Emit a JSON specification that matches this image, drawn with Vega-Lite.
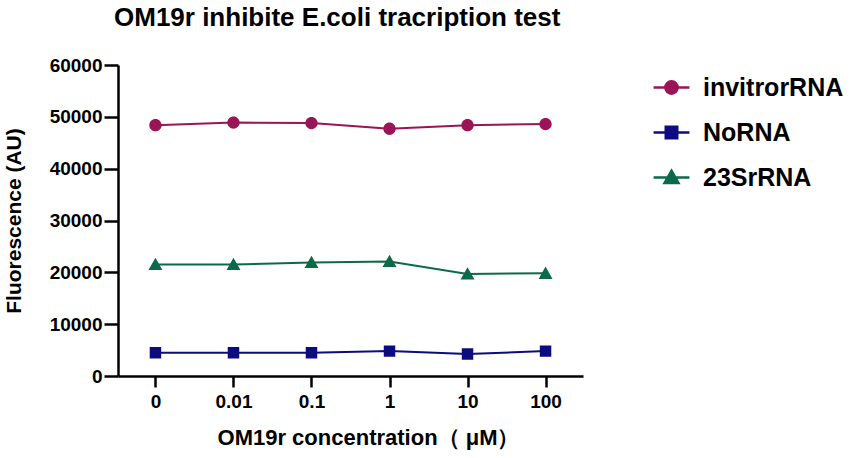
{
  "$schema": "https://vega.github.io/schema/vega-lite/v6.json",
  "width": 465,
  "height": 311,
  "autosize": "none",
  "padding": {"left": 118, "top": 65, "right": 271, "bottom": 82},
  "background": "white",
  "title": {
    "text": "OM19r inhibite E.coli tracription test",
    "frame": "group",
    "anchor": "start",
    "dx": -4,
    "offset": 25,
    "fontSize": 26,
    "fontWeight": "bold",
    "font": "Liberation Sans",
    "color": "black"
  },
  "data": {
    "values": [
      {"conc": "0", "series": "invitrorRNA", "value": 48400},
      {"conc": "0.01", "series": "invitrorRNA", "value": 48900},
      {"conc": "0.1", "series": "invitrorRNA", "value": 48800},
      {"conc": "1", "series": "invitrorRNA", "value": 47700},
      {"conc": "10", "series": "invitrorRNA", "value": 48400},
      {"conc": "100", "series": "invitrorRNA", "value": 48600},
      {"conc": "0", "series": "NoRNA", "value": 4500},
      {"conc": "0.01", "series": "NoRNA", "value": 4500},
      {"conc": "0.1", "series": "NoRNA", "value": 4500},
      {"conc": "1", "series": "NoRNA", "value": 4800},
      {"conc": "10", "series": "NoRNA", "value": 4250},
      {"conc": "100", "series": "NoRNA", "value": 4800},
      {"conc": "0", "series": "23SrRNA", "value": 21500},
      {"conc": "0.01", "series": "23SrRNA", "value": 21500},
      {"conc": "0.1", "series": "23SrRNA", "value": 21900},
      {"conc": "1", "series": "23SrRNA", "value": 22100},
      {"conc": "10", "series": "23SrRNA", "value": 19700},
      {"conc": "100", "series": "23SrRNA", "value": 19800}
    ]
  },
  "encoding": {
    "x": {
      "field": "conc",
      "type": "ordinal",
      "sort": ["0", "0.01", "0.1", "1", "10", "100"],
      "scale": {"type": "point", "padding": 0.48},
      "title": "OM19r concentration（ μM）",
      "axis": {
        "labelAngle": 0,
        "tickSize": 11,
        "tickWidth": 2.5,
        "domainWidth": 2.5,
        "labelPadding": 5,
        "titlePadding": 16,
        "titleFontSize": 22,
        "titleX": 250
      }
    },
    "y": {
      "field": "value",
      "type": "quantitative",
      "scale": {"domain": [0, 60000], "nice": false},
      "title": "Fluorescence (AU)",
      "axis": {
        "values": [0, 10000, 20000, 30000, 40000, 50000, 60000],
        "format": "d",
        "grid": false,
        "tickSize": 14,
        "tickWidth": 2.5,
        "domainWidth": 2.5,
        "labelPadding": 2,
        "titlePadding": 25
      }
    },
    "color": {
      "field": "series",
      "type": "nominal",
      "scale": {
        "domain": ["invitrorRNA", "NoRNA", "23SrRNA"],
        "range": ["#9A1456", "#0C0C80", "#0B6A48"]
      },
      "legend": {"title": null}
    }
  },
  "layer": [
    {
      "mark": {"type": "line", "strokeWidth": 2}
    },
    {
      "mark": {"type": "point", "filled": true, "opacity": 1, "size": 420},
      "encoding": {
        "shape": {
          "field": "series",
          "type": "nominal",
          "scale": {
            "domain": ["invitrorRNA", "NoRNA", "23SrRNA"],
            "range": [
              "M-1.75,0H1.75M0.6,0A0.6,0.6 0 1,1 -0.6,0A0.6,0.6 0 1,1 0.6,0Z",
              "M-1.75,0H1.75M-0.56,-0.56H0.56V0.56H-0.56Z",
              "M-1.75,0H1.75M0,-0.66L0.68,0.54H-0.68Z"
            ]
          },
          "legend": null
        }
      }
    }
  ],
  "config": {
    "view": {"stroke": null},
    "font": "Liberation Sans",
    "legend": {
      "orient": "none",
      "legendX": 541,
      "legendY": 10,
      "padding": 0,
      "symbolSize": 420,
      "symbolStrokeWidth": 2.5,
      "symbolOpacity": 1,
      "rowPadding": 19,
      "labelOffset": 19,
      "labelFontSize": 25,
      "labelFontWeight": "bold",
      "labelFont": "Liberation Sans",
      "labelColor": "black",
      "labelLimit": 300
    },
    "axis": {
      "domainColor": "black",
      "tickColor": "black",
      "labelColor": "black",
      "titleColor": "black",
      "labelFontSize": 19,
      "labelFontWeight": "bold",
      "labelFont": "Liberation Sans",
      "titleFontSize": 21,
      "titleFontWeight": "bold",
      "titleFont": "Liberation Sans"
    }
  }
}
